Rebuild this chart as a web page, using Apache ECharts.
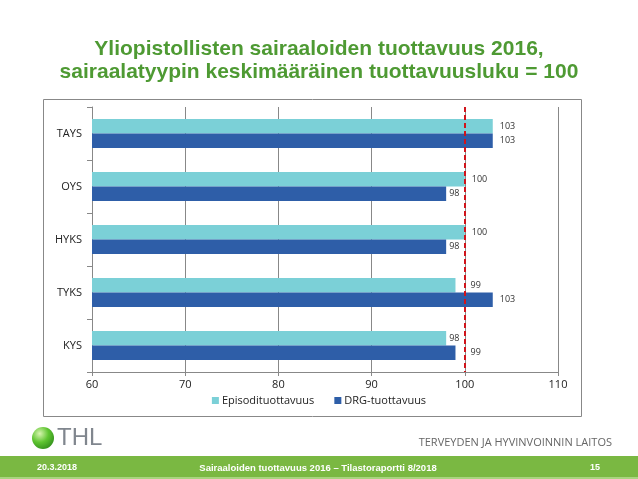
<!DOCTYPE html>
<html>
<head>
<meta charset="utf-8">
<script src="https://cdn.jsdelivr.net/npm/echarts@6/dist/echarts.min.js"></script>
<style>html,body{margin:0;padding:0;background:#fff;}#c{width:638px;height:479px;}</style>
</head>
<body>
<div id="c"></div>
<script>
const categories = ['TAYS', 'OYS', 'HYKS', 'TYKS', 'KYS'];
const episodi = [103, 100, 100, 99, 98];
const drg = [103, 98, 98, 103, 99];
const xTicks = { min: 60, max: 110, interval: 10 };
const referenceValue = 100;
const seriesNames = ['Episodituottavuus', 'DRG-tuottavuus'];

const chart = echarts.init(document.getElementById('c'));
const lblFont = "'Open Sans', 'Liberation Sans', sans-serif";

// keep value labels clear of the dashed reference line
function labelDistance(v) {
  if (v >= referenceValue) return 7;
  if (v > referenceValue - 2) return 15;
  return 3;
}
function toItems(values) {
  return values.map(v => ({ value: v, label: { distance: labelDistance(v) } }));
}

chart.setOption({
  animation: false,
  backgroundColor: '#fff',
  title: {
    text: 'Yliopistollisten sairaaloiden tuottavuus 2016,\nsairaalatyypin keskimääräinen tuottavuusluku = 100',
    left: 'center',
    top: 33,
    textStyle: {
      color: '#4e9a33',
      fontSize: 21,
      fontWeight: 'bold',
      fontFamily: "'Liberation Sans Narrow', 'Liberation Sans', Arial, sans-serif",
      lineHeight: 23
    }
  },
  legend: {
    data: seriesNames,
    top: 390,
    left: 'center',
    itemWidth: 7,
    itemHeight: 7,
    itemGap: 20,
    icon: 'rect',
    textStyle: { fontSize: 11, color: '#222', fontFamily: lblFont, padding: [0, 0, 0, -2] }
  },
  grid: { left: 92, right: 80, top: 107, bottom: 107, containLabel: false },
  xAxis: {
    type: 'value',
    min: xTicks.min,
    max: xTicks.max,
    interval: xTicks.interval,
    axisLine: { show: true, lineStyle: { color: '#888', width: 1 } },
    axisTick: { show: true, length: 4, lineStyle: { color: '#888' } },
    splitLine: { show: true, lineStyle: { color: '#888', width: 1 } },
    axisLabel: { fontSize: 11, color: '#222', fontFamily: lblFont, margin: 7 }
  },
  yAxis: {
    type: 'category',
    data: categories,
    inverse: true,
    axisLine: { show: true, lineStyle: { color: '#888', width: 1 } },
    axisTick: { show: true, length: 5, lineStyle: { color: '#888' } },
    axisLabel: { fontSize: 11, color: '#222', fontFamily: lblFont, margin: 10 }
  },
  series: [
    {
      name: seriesNames[0],
      type: 'bar',
      data: toItems(episodi),
      barGap: '0%',
      barCategoryGap: '45%',
      itemStyle: { color: '#7bd0d7' },
      label: { show: true, position: 'right', fontSize: 9, color: '#333', fontFamily: lblFont }
    },
    {
      name: seriesNames[1],
      type: 'bar',
      data: toItems(drg),
      barGap: '0%',
      barCategoryGap: '45%',
      itemStyle: { color: '#2e5ea8' },
      label: { show: true, position: 'right', fontSize: 9, color: '#333', fontFamily: lblFont },
      markLine: {
        silent: true,
        symbol: ['none', 'none'],
        label: { show: false },
        lineStyle: { color: '#d0141b', type: [5, 3], width: 2 },
        data: [{ xAxis: referenceValue }]
      }
    }
  ],
  graphic: [
    { type: 'rect', shape: { x: 43.5, y: 99.5, width: 538, height: 317 }, style: { fill: 'none', stroke: '#888', lineWidth: 1 }, z: -1 },
    { type: 'rect', shape: { x: 0, y: 456, width: 638, height: 23 }, style: { fill: '#7ab842' } },
    { type: 'rect', shape: { x: 0, y: 477, width: 638, height: 2 }, style: { fill: '#a9d47f' } },
    { type: 'text', left: 37, top: 463, style: { text: '20.3.2018', fill: '#fff', font: "bold 9px 'Liberation Sans', Arial, sans-serif" } },
    { type: 'text', x: 318, y: 468, style: { text: 'Sairaaloiden tuottavuus 2016 – Tilastoraportti 8/2018', fill: '#fff', font: "bold 9.5px 'Liberation Sans Narrow', 'Liberation Sans', Arial, sans-serif", textAlign: 'center', textVerticalAlign: 'middle' } },
    { type: 'text', x: 600, y: 468, style: { text: '15', fill: '#fff', font: "bold 9px 'Liberation Sans', Arial, sans-serif", textAlign: 'right', textVerticalAlign: 'middle' } },
    { type: 'text', x: 612, y: 443, style: { text: 'TERVEYDEN JA HYVINVOINNIN LAITOS', fill: '#666', font: "11px 'Open Sans', 'Liberation Sans', sans-serif", textAlign: 'right', textVerticalAlign: 'middle' } },
    { type: 'circle', shape: { cx: 43, cy: 438, r: 11 }, style: { fill: new echarts.graphic.RadialGradient(0.35, 0.3, 0.8, [{ offset: 0, color: '#d8f5b0' }, { offset: 0.5, color: '#5fc531' }, { offset: 1, color: '#2e8a1a' }]) } },
    { type: 'text', x: 57, y: 438, style: { text: 'THL', fill: '#80868e', font: "24px 'Liberation Sans', Arial, sans-serif", textVerticalAlign: 'middle' } }
  ]
});
</script>
</body>
</html>
